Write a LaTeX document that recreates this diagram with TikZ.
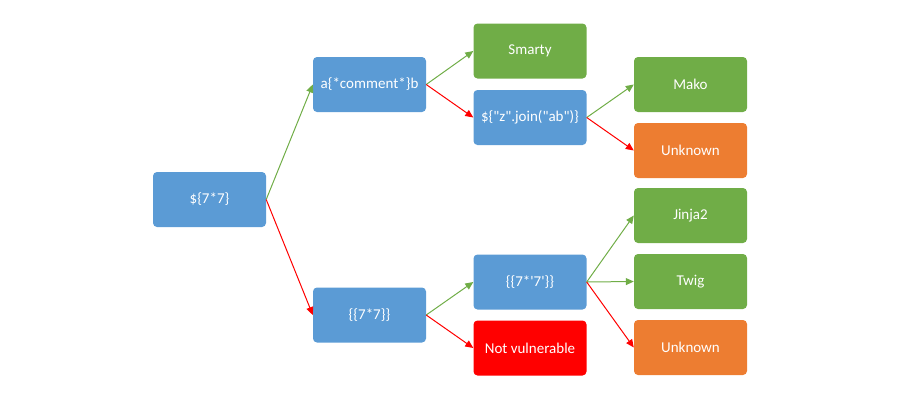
\documentclass[tikz,border=0pt]{standalone}
\usepackage{fontspec}
\setmainfont{Carlito}
\usetikzlibrary{arrows.meta}
\definecolor{boxblue}{HTML}{5B9BD5}
\definecolor{boxgreen}{HTML}{70AD47}
\definecolor{boxorange}{HTML}{ED7D31}
\definecolor{boxred}{HTML}{FF0000}
\newcommand{\dq}{\textquotedbl}
\newcommand{\sq}{\textquotesingle}
\begin{document}
\begin{tikzpicture}[x=1pt,y=-1pt,
  box/.style={rounded corners=4pt, minimum width=113pt, minimum height=55pt,
    inner sep=0pt, text=white, font=\fontsize{15}{18}\selectfont},
  probe/.style={box, fill=boxblue},
  engine/.style={box, fill=boxgreen},
  unknown/.style={box, fill=boxorange},
  safe/.style={box, fill=boxred},
  yes/.style={draw=boxgreen, line width=1pt, -{Triangle[length=8pt,width=7pt]}},
  no/.style={draw=boxred, line width=1pt, -{Triangle[length=8pt,width=7pt]}}]
\useasboundingbox (0,0) rectangle (900,400);

% first probe
\node[probe] (root) at (209.5,199.5) {\$\{7*7\}};

% second column
\node[probe] (comment) at (369.5,84.5) {a\{*comment*\}b};
\node[probe] (jinja) at (369.5,315) {\{\{7*7\}\}};

% third column
\node[engine] (smarty) at (530,51) {Smarty};
\node[probe] (join) at (530,117.5) {\$\{\dq z\dq.join(\dq ab\dq)\}};
\node[probe] (mult) at (530,282) {\{\{7*\sq 7\sq\}\}};
\node[safe] (notvuln) at (530,348) {Not vulnerable};

% fourth column
\node[engine] (mako) at (690.5,84.5) {Mako};
\node[unknown] (unk1) at (690.5,150.5) {Unknown};
\node[engine] (jinja2) at (690.5,215.5) {Jinja2};
\node[engine] (twig) at (690.5,281.5) {Twig};
\node[unknown] (unk2) at (690.5,347.5) {Unknown};

% decisions
\draw[yes] (root.east) -- (comment.west);
\draw[no] (root.east) -- (jinja.west);
\draw[yes] (comment.east) -- (smarty.west);
\draw[no] (comment.east) -- (join.west);
\draw[yes] (join.east) -- (mako.west);
\draw[no] (join.east) -- (unk1.west);
\draw[yes] (jinja.east) -- (mult.west);
\draw[no] (jinja.east) -- (notvuln.west);
\draw[yes] (mult.east) -- (jinja2.west);
\draw[yes] (mult.east) -- (twig.west);
\draw[no] (mult.east) -- (unk2.west);
\end{tikzpicture}
\end{document}
